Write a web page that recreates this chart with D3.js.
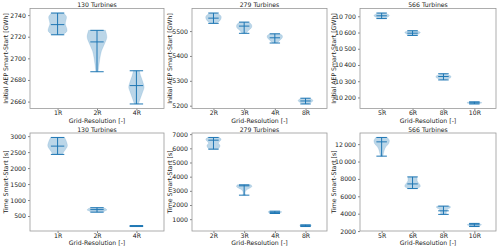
<!DOCTYPE html>
<html><head><meta charset="utf-8">
<script src="https://cdn.jsdelivr.net/npm/d3@7"></script>
<style>body{margin:0;background:#fff}svg{display:block}text{font-family:"DejaVu Sans",sans-serif;fill:#222}</style>
</head><body><svg id="c" width="500" height="250"></svg>
<script>
// ---------- data ----------
const titles = ["130 Turbines", "279 Turbines", "566 Turbines"];
const cats130 = ["1R", "2R", "4R"];
const cats279 = ["2R", "3R", "4R", "8R"];
const cats566 = ["5R", "6R", "8R", "10R"];

const aepMin130  = [2721.8, 2687.6, 2657.8];
const aepMax130  = [2741.9, 2725.9, 2688.5];
const aepMean130 = [2731.2, 2715.2, 2674.8];
const aepShape130 = [[0.6,0.9,0.85,0.78,0.9,0.95,0.5],[0.85,1.0,0.75,0.45,0.3,0.2,0.12],[0.3,0.45,0.65,0.78,0.6,0.4,0.2]];

const aepMin279  = [5531, 5491, 5452, 5207];
const aepMax279  = [5572.5, 5536, 5489, 5230];
const aepMean279 = [5552, 5520, 5473, 5219];
const aepShape279 = [[0.4,0.8,1.0,1.0,0.9,0.7,0.35],[0.5,0.9,1.0,0.95,0.7,0.45,0.25],[0.6,0.95,1.0,0.9,0.7,0.5,0.3],[0.4,0.8,0.95,0.95,0.8,0.6,0.4]];

const aepMin566  = [10686, 10582, 10308, 10160];
const aepMax566  = [10720, 10611, 10346, 10173];
const aepMean566 = [10703, 10596, 10329, 10167];
const aepShape566 = [[0.4,0.7,0.95,1.0,0.85,0.6,0.4],[0.5,0.8,1.0,0.95,0.8,0.6,0.4],[0.3,0.6,0.9,1.0,0.9,0.6,0.3],[0.5,0.8,0.95,0.95,0.8,0.6,0.5]];

const timeMin130  = [2428, 620, 170];
const timeMax130  = [2959, 760, 200];
const timeMean130 = [2688, 700, 185];
const timeShape130 = [[0.7,0.85,0.95,1.0,0.85,0.65,0.5],[0.6,0.85,0.95,1.0,0.85,0.7,0.5],[0.5,0.55,0.6,0.6,0.55,0.5,0.45]];

const timeMin279  = [5941, 2695, 1400, 480];
const timeMax279  = [6767, 3423, 1564, 600];
const timeMean279 = [6576, 3353, 1480, 540];
const timeShape279 = [[0.8,1.0,0.8,0.65,0.85,0.8,0.55],[0.9,1.0,0.7,0.3,0.15,0.12,0.2],[0.6,0.85,0.9,0.85,0.7,0.55,0.4],[0.6,0.75,0.75,0.7,0.65,0.6,0.55]];

const timeMin566  = [10620, 6890, 3920, 2520];
const timeMax566  = [12770, 8230, 4870, 2880];
const timeMean566 = [12265, 7425, 4330, 2720];
const timeShape566 = [[0.75,1.0,0.9,0.55,0.35,0.25,0.15],[0.55,0.6,0.6,0.75,0.95,1.0,0.55],[0.85,0.9,0.6,0.45,0.4,0.35,0.4],[0.3,0.7,0.9,0.9,0.7,0.5,0.4]];

const aepTicks130 = [2660, 2680, 2700, 2720, 2740];
const aepTicks279 = [5200, 5300, 5400, 5500];
const aepTicks566 = [10200, 10300, 10400, 10500, 10600, 10700];
const timeTicks130 = [500, 1000, 1500, 2000, 2500, 3000];
const timeTicks279 = [1000, 2000, 3000, 4000, 5000, 6000, 7000];
const timeTicks566 = [2000, 4000, 6000, 8000, 10000, 12000];

const yLabels = ["Initial AEP Smart-Start [GWh]", "Time Smart-Start [s]"];
const xLabel = "Grid-Resolution [-]";

// ---------- layout ----------
const colX = [[30, 164], [192, 327], [360, 496]];
const rowY = [[8.5, 108.5], [133, 231]];
const labelX = [8, 172, 336];
const C0 = "#1f77b4";
const FS = 6.2;

const panels = [
  {r:0,c:0,cats:cats130,mn:aepMin130,mx:aepMax130,me:aepMean130,sh:aepShape130,ticks:aepTicks130},
  {r:0,c:1,cats:cats279,mn:aepMin279,mx:aepMax279,me:aepMean279,sh:aepShape279,ticks:aepTicks279},
  {r:0,c:2,cats:cats566,mn:aepMin566,mx:aepMax566,me:aepMean566,sh:aepShape566,ticks:aepTicks566},
  {r:1,c:0,cats:cats130,mn:timeMin130,mx:timeMax130,me:timeMean130,sh:timeShape130,ticks:timeTicks130},
  {r:1,c:1,cats:cats279,mn:timeMin279,mx:timeMax279,me:timeMean279,sh:timeShape279,ticks:timeTicks279},
  {r:1,c:2,cats:cats566,mn:timeMin566,mx:timeMax566,me:timeMean566,sh:timeShape566,ticks:timeTicks566}
];

const svg = d3.select("#c");
const fmt = v => v >= 10000 ? d3.format(",")(v).replace(",", "\u2009") : String(v);

panels.forEach(p => {
  const [x0, x1] = colX[p.c], [y0, y1] = rowY[p.r];
  const n = p.cats.length;
  const x = d3.scaleLinear().domain([0.3, n + 0.7]).range([x0, x1]);
  const lo = d3.min(p.mn), hi = d3.max(p.mx), pad = (hi - lo) * 0.05;
  const y = d3.scaleLinear().domain([lo - pad, hi + pad]).range([y1, y0]);
  const g = svg.append("g");

  // violins
  p.cats.forEach((cat, i) => {
    const pos = i + 1, s = p.sh[i], k = s.length;
    const pts = s.map((w, j) => ({v: p.mx[i] - j * (p.mx[i] - p.mn[i]) / (k - 1), w: w * 0.25}));
    const area = d3.area().y(d => y(d.v)).x0(d => x(pos - d.w)).x1(d => x(pos + d.w)).curve(d3.curveCatmullRom);
    g.append("path").attr("d", area(pts)).attr("fill", C0).attr("fill-opacity", 0.3)
      .attr("stroke", C0).attr("stroke-opacity", 0.25).attr("stroke-width", 0.5);
    const cw = 0.17;
    g.append("line").attr("x1", x(pos)).attr("x2", x(pos)).attr("y1", y(p.mx[i])).attr("y2", y(p.mn[i]))
      .attr("stroke", C0).attr("stroke-width", 1);
    [p.mx[i], p.mn[i], p.me[i]].forEach(v => {
      g.append("line").attr("x1", x(pos - cw)).attr("x2", x(pos + cw)).attr("y1", y(v)).attr("y2", y(v))
        .attr("stroke", C0).attr("stroke-width", 1);
    });
  });

  // axes
  const ya = g.append("g").attr("transform", `translate(${x0},0)`)
    .call(d3.axisLeft(y).tickValues(p.ticks).tickFormat(fmt).tickSize(2).tickPadding(2));
  const xa = g.append("g").attr("transform", `translate(0,${y1})`)
    .call(d3.axisBottom(x).tickValues(d3.range(1, n + 1)).tickFormat(d => p.cats[d - 1]).tickSize(2).tickPadding(2));
  [ya, xa].forEach(a => {
    a.select(".domain").remove();
    a.selectAll("line").attr("stroke", "#333").attr("stroke-width", 0.6);
    a.selectAll("text").attr("font-size", FS).attr("fill", "#222").attr("font-family", "DejaVu Sans");
  });
  xa.selectAll("text").attr("y", 6.5).attr("dy", null);

  // frame
  g.append("rect").attr("x", x0).attr("y", y0).attr("width", x1 - x0).attr("height", y1 - y0)
    .attr("fill", "none").attr("stroke", "#999").attr("stroke-width", 0.8);

  // titles & labels
  g.append("text").attr("x", (x0 + x1) / 2).attr("y", y0 - 1.5).attr("text-anchor", "middle")
    .attr("font-size", FS).text(titles[p.c]);
  g.append("text").attr("x", (x0 + x1) / 2).attr("y", y1 + 14.2).attr("text-anchor", "middle")
    .attr("font-size", FS).text(xLabel);
  g.append("text").attr("transform", `translate(${labelX[p.c]},${(y0 + y1) / 2}) rotate(-90)`)
    .attr("text-anchor", "middle").attr("font-size", FS).text(yLabels[p.r]);
});
</script></body></html>
